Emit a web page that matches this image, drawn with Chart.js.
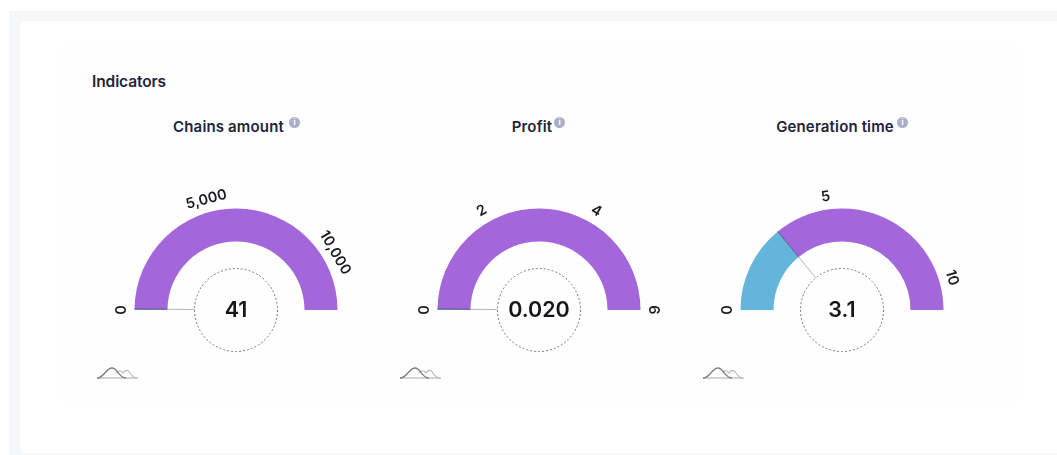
<!DOCTYPE html>
<html><head><meta charset="utf-8">
<script src="https://cdn.jsdelivr.net/npm/chart.js@4"></script>
<style>
html,body{margin:0;padding:0;background:#fff;width:1057px;height:455px;overflow:hidden;font-family:Inter,sans-serif}
.abs{position:absolute}
#band{left:9px;top:11px;width:1048px;height:444px;background:#f6f7f9}
#card{left:20px;top:21px;width:1037px;height:432px;background:#fff;border-radius:6px 0 0 6px}
#inner{left:58px;top:45px;width:964px;height:357px;background:#fefefe;border-radius:12px}
#head{left:92px;top:73px;font-size:15.5px;font-weight:600;color:#22243c;line-height:18px;letter-spacing:-.1px}
.title{font-size:15px;font-weight:600;color:#22243c;line-height:18px;white-space:nowrap;transform:translateX(-50%);letter-spacing:.15px}
.info{width:11px;height:11px;border-radius:50%;background:#a9afc6;color:#fff;font-size:8px;font-weight:700;line-height:11px;text-align:center}
canvas{position:absolute}
</style></head>
<body>
<div class="abs" id="band"></div><div class="abs" id="card"></div><div class="abs" id="inner"></div>
<div class="abs" id="head">Indicators</div>
<div id="root"></div>
<script>
const titles=["Chains amount","Profit","Generation time"];
const values=[41,0.020,3.1];
const valueLabels=["41","0.020","3.1"];
const maxima=[12000,6,11];
const tickValues=[[0,5000,10000],[0,2,4,6],[0,5,10]];
const tickLabels=[["0","5,000","10,000"],["0","2","4","6"],["0","5","10"]];
const centers=[235.5,538.5,842];
const titleCenters=[228.5,532,835];
const infoLefts=[289,554,897];
const iconLefts=[96,399,702];
const PURPLE="#a366db",BLUE="#63b5dc";
const root=document.getElementById('root');

const gaugePlugin={id:'gauge',afterDatasetsDraw(chart,args,o){
  const arc=chart.getDatasetMeta(0).data[0];
  const {x,y,outerRadius:R}=arc;
  const c=chart.ctx;
  const a=Math.PI+Math.PI*o.value/o.max;
  c.save();
  // dashed centre circle
  c.beginPath();c.setLineDash([2,2]);c.lineWidth=1;c.strokeStyle='#77777c';c.arc(x,y,41.5,0,Math.PI*2);c.stroke();c.setLineDash([]);
  // needle
  const ri=arc.innerRadius;
  c.beginPath();c.lineWidth=1;c.strokeStyle='#5f5a86';c.moveTo(x+R*Math.cos(a),y+R*Math.sin(a));c.lineTo(x+ri*Math.cos(a),y+ri*Math.sin(a));c.stroke();
  c.beginPath();c.strokeStyle='#b4b4b4';c.moveTo(x+ri*Math.cos(a),y+ri*Math.sin(a));c.lineTo(x+41.5*Math.cos(a),y+41.5*Math.sin(a));c.stroke();
  // centre value
  c.fillStyle='#15151c';c.font='600 21.5px Inter';c.textAlign='center';c.textBaseline='middle';
  c.fillText(o.label,x,y+1);
  // tick labels along the arc
  c.font='600 14.5px Inter';c.fillStyle='#1c1c24';
  o.ticks.forEach((t,i)=>{
    const f=t/o.max,an=Math.PI+Math.PI*f,r=114.5;
    c.save();c.translate(x+r*Math.cos(an),y+r*Math.sin(an));c.rotate(an+Math.PI/2);
    c.fillText(o.tickLabels[i],0,0);c.restore();
  });
  c.restore();
}};

titles.forEach((t,i)=>{
  const d=document.createElement('div');d.className='abs title';d.style.left=titleCenters[i]+'px';d.style.top='118px';d.textContent=t;root.appendChild(d);
  const n=document.createElement('div');n.className='abs info';n.style.left=infoLefts[i]+'px';n.style.top='117px';n.textContent='i';root.appendChild(n);
  const s=document.createElementNS('http://www.w3.org/2000/svg','svg');
  s.setAttribute('width','44');s.setAttribute('height','16');s.setAttribute('class','abs');
  s.style.left=iconLefts[i]+'px';s.style.top='366px';
  s.innerHTML='<path d="M1 12 L42 12" stroke="#a8a8a8" stroke-width="1.2" fill="none"/>'+
   '<path d="M20 7 C22 4 25 4 27 7 C29 4 32 3 34 7 C36 10 38 12 41 12" stroke="#b8b8b8" stroke-width="1.1" fill="none"/>'+
   '<path d="M1 12 C8 12 10 2 16 2 C22 2 22 12 30 12" stroke="#7f7f7f" stroke-width="1.3" fill="none"/>';
  root.appendChild(s);
  const cv=document.createElement('canvas');
  cv.style.left=(centers[i]-150)+'px';cv.style.top=(310-130)+'px';
  cv.style.width='300px';cv.style.height='190px';cv.width=300;cv.height=190;
  root.appendChild(cv);
  new Chart(cv,{type:'doughnut',
    data:{labels:['value','rest'],datasets:[{data:[values[i],maxima[i]-values[i]],backgroundColor:[BLUE,PURPLE],borderWidth:0}]},
    options:{responsive:false,animation:false,rotation:-90,circumference:180,cutout:'67.5%',
      layout:{padding:{left:48.5,right:48.5,top:28.5,bottom:60}},
      plugins:{legend:{display:false},tooltip:{enabled:false},
        gauge:{value:values[i],max:maxima[i],label:valueLabels[i],ticks:tickValues[i],tickLabels:tickLabels[i]}}},
    plugins:[gaugePlugin]});
});
</script>
</body></html>
